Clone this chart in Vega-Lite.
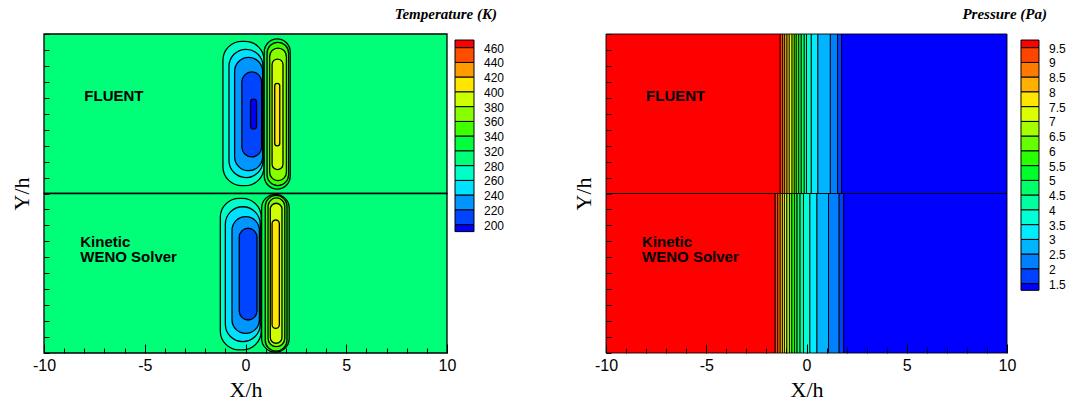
{
  "$schema": "https://vega.github.io/schema/vega-lite/v6.json",
  "background": "white",
  "padding": {"left": 10, "top": 7, "right": 0, "bottom": 0},
  "bounds": "flush",
  "spacing": 8,
  "resolve": {"scale": {"color": "independent"}},
  "config": {
    "view": {"stroke": null},
    "axis": {
      "labelFont": "Liberation Sans", "labelFontSize": 16, "labelColor": "black",
      "titleFont": "Liberation Serif", "titleFontSize": 22, "titleFontWeight": "normal", "titleColor": "black",
      "tickColor": "black", "tickWidth": 1, "grid": false, "domain": false
    }
  },
  "datasets": {
    "background": [
      {"half": "upper", "band": "T5", "x0": -10, "x1": 10, "y0": 10, "y1": 20},
      {"half": "lower", "band": "T5", "x0": -10, "x1": 10, "y0": 0, "y1": 10}
    ],
    "tempRings": [
      {"half": "upper", "band": "T4", "x0": -1.12, "x1": 0.92, "y0": 10.49, "y1": 19.54},
      {"half": "upper", "band": "T3", "x0": -0.82, "x1": 0.87, "y0": 11.0, "y1": 19.04},
      {"half": "upper", "band": "T2", "x0": -0.54, "x1": 0.85, "y0": 11.43, "y1": 18.53},
      {"half": "upper", "band": "T1", "x0": -0.18, "x1": 0.8, "y0": 12.29, "y1": 17.62},
      {"half": "upper", "band": "T0", "x0": 0.25, "x1": 0.55, "y0": 14.04, "y1": 15.92},
      {"half": "upper", "band": "T6", "x0": 0.93, "x1": 2.22, "y0": 10.28, "y1": 19.69},
      {"half": "upper", "band": "T7", "x0": 1.07, "x1": 2.14, "y0": 10.5, "y1": 19.48},
      {"half": "upper", "band": "T8", "x0": 1.2, "x1": 2.03, "y0": 10.81, "y1": 19.12},
      {"half": "upper", "band": "T9", "x0": 1.32, "x1": 1.86, "y0": 11.5, "y1": 18.43},
      {"half": "upper", "band": "T10", "x0": 1.45, "x1": 1.7, "y0": 12.99, "y1": 16.91},
      {"half": "lower", "band": "T4", "x0": -1.25, "x1": 0.78, "y0": 0.19, "y1": 9.7},
      {"half": "lower", "band": "T3", "x0": -1.0, "x1": 0.73, "y0": 0.71, "y1": 9.17},
      {"half": "lower", "band": "T2", "x0": -0.67, "x1": 0.69, "y0": 1.23, "y1": 8.55},
      {"half": "lower", "band": "T1", "x0": -0.31, "x1": 0.57, "y0": 2.07, "y1": 7.82},
      {"half": "lower", "band": "T6", "x0": 0.8, "x1": 2.17, "y0": 0.05, "y1": 9.95},
      {"half": "lower", "band": "T7", "x0": 0.98, "x1": 2.06, "y0": 0.12, "y1": 9.88},
      {"half": "lower", "band": "T8", "x0": 1.12, "x1": 1.95, "y0": 0.4, "y1": 9.72},
      {"half": "lower", "band": "T9", "x0": 1.23, "x1": 1.81, "y0": 0.61, "y1": 9.39},
      {"half": "lower", "band": "T10", "x0": 1.32, "x1": 1.68, "y0": 1.55, "y1": 8.34}
    ],
    "presBands": [
      {"half": "upper", "band": "P17", "x0": -10, "x1": -1.31, "y0": 10, "y1": 20},
      {"half": "upper", "band": "P16", "x0": -1.31, "x1": -1.19, "y0": 10, "y1": 20},
      {"half": "upper", "band": "P15", "x0": -1.19, "x1": -1.09, "y0": 10, "y1": 20},
      {"half": "upper", "band": "P14", "x0": -1.09, "x1": -0.97, "y0": 10, "y1": 20},
      {"half": "upper", "band": "P13", "x0": -0.97, "x1": -0.86, "y0": 10, "y1": 20},
      {"half": "upper", "band": "P12", "x0": -0.86, "x1": -0.72, "y0": 10, "y1": 20},
      {"half": "upper", "band": "P11", "x0": -0.72, "x1": -0.61, "y0": 10, "y1": 20},
      {"half": "upper", "band": "P10", "x0": -0.61, "x1": -0.51, "y0": 10, "y1": 20},
      {"half": "upper", "band": "P9", "x0": -0.51, "x1": -0.39, "y0": 10, "y1": 20},
      {"half": "upper", "band": "P8", "x0": -0.39, "x1": -0.26, "y0": 10, "y1": 20},
      {"half": "upper", "band": "P7", "x0": -0.26, "x1": -0.11, "y0": 10, "y1": 20},
      {"half": "upper", "band": "P6", "x0": -0.11, "x1": 0.0, "y0": 10, "y1": 20},
      {"half": "upper", "band": "P5", "x0": 0.0, "x1": 0.24, "y0": 10, "y1": 20},
      {"half": "upper", "band": "P4", "x0": 0.24, "x1": 0.57, "y0": 10, "y1": 20},
      {"half": "upper", "band": "P3", "x0": 0.57, "x1": 1.19, "y0": 10, "y1": 20},
      {"half": "upper", "band": "P2", "x0": 1.19, "x1": 1.55, "y0": 10, "y1": 20},
      {"half": "upper", "band": "P1", "x0": 1.55, "x1": 1.75, "y0": 10, "y1": 20},
      {"half": "upper", "band": "P0", "x0": 1.75, "x1": 10, "y0": 10, "y1": 20},
      {"half": "lower", "band": "P17", "x0": -10, "x1": -1.56, "y0": 0, "y1": 10},
      {"half": "lower", "band": "P16", "x0": -1.56, "x1": -1.43, "y0": 0, "y1": 10},
      {"half": "lower", "band": "P15", "x0": -1.43, "x1": -1.31, "y0": 0, "y1": 10},
      {"half": "lower", "band": "P14", "x0": -1.31, "x1": -1.2, "y0": 0, "y1": 10},
      {"half": "lower", "band": "P13", "x0": -1.2, "x1": -1.1, "y0": 0, "y1": 10},
      {"half": "lower", "band": "P12", "x0": -1.1, "x1": -0.98, "y0": 0, "y1": 10},
      {"half": "lower", "band": "P11", "x0": -0.98, "x1": -0.85, "y0": 0, "y1": 10},
      {"half": "lower", "band": "P10", "x0": -0.85, "x1": -0.73, "y0": 0, "y1": 10},
      {"half": "lower", "band": "P9", "x0": -0.73, "x1": -0.6, "y0": 0, "y1": 10},
      {"half": "lower", "band": "P8", "x0": -0.6, "x1": -0.47, "y0": 0, "y1": 10},
      {"half": "lower", "band": "P7", "x0": -0.47, "x1": -0.32, "y0": 0, "y1": 10},
      {"half": "lower", "band": "P6", "x0": -0.32, "x1": -0.15, "y0": 0, "y1": 10},
      {"half": "lower", "band": "P5", "x0": -0.15, "x1": 0.17, "y0": 0, "y1": 10},
      {"half": "lower", "band": "P4", "x0": 0.17, "x1": 0.52, "y0": 0, "y1": 10},
      {"half": "lower", "band": "P3", "x0": 0.52, "x1": 1.1, "y0": 0, "y1": 10},
      {"half": "lower", "band": "P2", "x0": 1.1, "x1": 1.63, "y0": 0, "y1": 10},
      {"half": "lower", "band": "P1", "x0": 1.63, "x1": 1.86, "y0": 0, "y1": 10},
      {"half": "lower", "band": "P0", "x0": 1.86, "x1": 10, "y0": 0, "y1": 10}
    ],
    "notes": [
      {"text": "FLUENT", "x": -8.0, "y": 16.1},
      {"text": "Kinetic", "x": -8.2, "y": 6.96},
      {"text": "WENO Solver", "x": -8.2, "y": 6.02}
    ],
    "tempLegend": [
      {"band": "T13", "lo": -0.52, "hi": 0},
      {"band": "T12", "lo": 0, "hi": 1},
      {"band": "T11", "lo": 1, "hi": 2},
      {"band": "T10", "lo": 2, "hi": 3},
      {"band": "T9", "lo": 3, "hi": 4},
      {"band": "T8", "lo": 4, "hi": 5},
      {"band": "T7", "lo": 5, "hi": 6},
      {"band": "T6", "lo": 6, "hi": 7},
      {"band": "T5", "lo": 7, "hi": 8},
      {"band": "T4", "lo": 8, "hi": 9},
      {"band": "T3", "lo": 9, "hi": 10},
      {"band": "T2", "lo": 10, "hi": 11},
      {"band": "T1", "lo": 11, "hi": 12},
      {"band": "T0", "lo": 12, "hi": 12.47}
    ],
    "tempLabels": [
      {"label": "460", "pos": 0}, {"label": "440", "pos": 1}, {"label": "420", "pos": 2},
      {"label": "400", "pos": 3}, {"label": "380", "pos": 4}, {"label": "360", "pos": 5},
      {"label": "340", "pos": 6}, {"label": "320", "pos": 7}, {"label": "280", "pos": 8},
      {"label": "260", "pos": 9}, {"label": "240", "pos": 10}, {"label": "220", "pos": 11},
      {"label": "200", "pos": 12}
    ],
    "presLegend": [
      {"band": "P17", "lo": -0.52, "hi": 0},
      {"band": "P16", "lo": 0, "hi": 1},
      {"band": "P15", "lo": 1, "hi": 2},
      {"band": "P14", "lo": 2, "hi": 3},
      {"band": "P13", "lo": 3, "hi": 4},
      {"band": "P12", "lo": 4, "hi": 5},
      {"band": "P11", "lo": 5, "hi": 6},
      {"band": "P10", "lo": 6, "hi": 7},
      {"band": "P9", "lo": 7, "hi": 8},
      {"band": "P8", "lo": 8, "hi": 9},
      {"band": "P7", "lo": 9, "hi": 10},
      {"band": "P6", "lo": 10, "hi": 11},
      {"band": "P5", "lo": 11, "hi": 12},
      {"band": "P4", "lo": 12, "hi": 13},
      {"band": "P3", "lo": 13, "hi": 14},
      {"band": "P2", "lo": 14, "hi": 15},
      {"band": "P1", "lo": 15, "hi": 16},
      {"band": "P0", "lo": 16, "hi": 16.45}
    ],
    "presLabels": [
      {"label": "9.5", "pos": 0}, {"label": "9", "pos": 1}, {"label": "8.5", "pos": 2},
      {"label": "8", "pos": 3}, {"label": "7.5", "pos": 4}, {"label": "7", "pos": 5},
      {"label": "6.5", "pos": 6}, {"label": "6", "pos": 7}, {"label": "5.5", "pos": 8},
      {"label": "5", "pos": 9}, {"label": "4.5", "pos": 10}, {"label": "4", "pos": 11},
      {"label": "3.5", "pos": 12}, {"label": "3", "pos": 13}, {"label": "2.5", "pos": 14},
      {"label": "2", "pos": 15}, {"label": "1.5", "pos": 16}
    ]
  },
  "hconcat": [
    {
      "width": 403, "height": 319,
      "encoding": {
        "x": {"type": "quantitative", "scale": {"domain": [-10, 10], "nice": false, "zero": false},
          "axis": {"title": "X/h", "values": [-10,-9,-8,-7,-6,-5,-4,-3,-2,-1,0,1,2,3,4,5,6,7,8,9,10],
            "labelExpr": "datum.value % 5 === 0 ? '' + datum.value : ''",
            "tickSize": {"condition": {"test": "datum.value % 5 === 0", "value": -9}, "value": -5},
            "labelPadding": 13, "labelOverlap": false, "labelFlush": false, "titlePadding": 2, "zindex": 2}},
        "y": {"type": "quantitative", "scale": {"domain": [0, 20], "nice": false, "zero": false},
          "axis": {"title": "Y/h", "values": [0,1,2,3,4,5,6,7,8,9,10,11,12,13,14,15,16,17,18,19,20],
            "labels": false, "tickSize": -5, "titlePadding": 10, "zindex": 2}}
      },
      "layer": [
        {"data": {"name": "background"}, "mark": {"type": "rect", "stroke": "black", "strokeWidth": 1.3},
          "encoding": {"x": {"field": "x0"}, "x2": {"field": "x1"}, "y": {"field": "y0"}, "y2": {"field": "y1"},
            "color": {"field": "band", "type": "nominal", "legend": null,
              "scale": {"domain": ["T0","T1","T2","T3","T4","T5","T6","T7","T8","T9","T10","T11","T12","T13"],
                "range": ["#0000FF","#0044FF","#0095FF","#00E0FF","#00FFC8","#00FF78","#00FF3C","#40FF00","#88FF00","#CCFF00","#FFE600","#FF9A00","#FF4D00","#FF0000"]}}}},
        {"data": {"name": "tempRings"}, "mark": {"type": "rect", "stroke": "black", "strokeWidth": 1.3, "cornerRadius": 19},
          "encoding": {"x": {"field": "x0"}, "x2": {"field": "x1"}, "y": {"field": "y0"}, "y2": {"field": "y1"},
            "color": {"field": "band", "type": "nominal", "legend": null,
              "scale": {"domain": ["T0","T1","T2","T3","T4","T5","T6","T7","T8","T9","T10","T11","T12","T13"],
                "range": ["#0000FF","#0044FF","#0095FF","#00E0FF","#00FFC8","#00FF78","#00FF3C","#40FF00","#88FF00","#CCFF00","#FFE600","#FF9A00","#FF4D00","#FF0000"]}}}},
        {"data": {"name": "notes"}, "mark": {"type": "text", "align": "left", "baseline": "middle", "font": "Liberation Sans", "fontWeight": "bold", "fontSize": 15, "color": "black"},
          "encoding": {"x": {"field": "x"}, "y": {"field": "y"}, "text": {"field": "text"}}}
      ]
    },
    {
      "width": 143, "height": 319,
      "title": {"text": "Temperature (K)", "anchor": "end", "frame": "group", "dx": -101, "offset": 12,
        "font": "Liberation Serif", "fontSize": 15, "fontStyle": "italic", "fontWeight": "bold", "color": "black"},
      "layer": [
        {"data": {"name": "tempLegend"}, "mark": {"type": "rect", "stroke": "black", "strokeWidth": 1},
          "encoding": {
            "x": {"datum": 0, "type": "quantitative", "scale": {"domain": [0, 7.526], "nice": false, "zero": false}, "axis": null},
            "x2": {"datum": 1},
            "y": {"field": "lo", "type": "quantitative", "scale": {"domain": [-0.93, 20.7], "reverse": true, "nice": false, "zero": false}, "axis": null},
            "y2": {"field": "hi"},
            "color": {"field": "band", "type": "nominal", "legend": null,
              "scale": {"domain": ["T0","T1","T2","T3","T4","T5","T6","T7","T8","T9","T10","T11","T12","T13"],
                "range": ["#0000FF","#0044FF","#0095FF","#00E0FF","#00FFC8","#00FF78","#00FF3C","#40FF00","#88FF00","#CCFF00","#FFE600","#FF9A00","#FF4D00","#FF0000"]}}}},
        {"data": {"name": "tempLabels"}, "mark": {"type": "text", "align": "left", "baseline": "middle", "dx": 10, "dy": 1, "font": "Liberation Sans", "fontSize": 12, "color": "black"},
          "encoding": {"x": {"datum": 1, "type": "quantitative"}, "y": {"field": "pos", "type": "quantitative"}, "text": {"field": "label"}}}
      ]
    },
    {
      "width": 401, "height": 319,
      "encoding": {
        "x": {"type": "quantitative", "scale": {"domain": [-10, 10], "nice": false, "zero": false},
          "axis": {"title": "X/h", "values": [-10,-9,-8,-7,-6,-5,-4,-3,-2,-1,0,1,2,3,4,5,6,7,8,9,10],
            "labelExpr": "datum.value % 5 === 0 ? '' + datum.value : ''",
            "tickSize": {"condition": {"test": "datum.value % 5 === 0", "value": -9}, "value": -5},
            "labelPadding": 13, "labelOverlap": false, "labelFlush": false, "titlePadding": 2, "zindex": 2}},
        "y": {"type": "quantitative", "scale": {"domain": [0, 20], "nice": false, "zero": false},
          "axis": {"title": "Y/h", "values": [0,1,2,3,4,5,6,7,8,9,10,11,12,13,14,15,16,17,18,19,20],
            "labels": false, "tickSize": -5, "titlePadding": 10, "zindex": 2}}
      },
      "layer": [
        {"data": {"name": "presBands"}, "mark": {"type": "rect", "stroke": "black", "strokeWidth": 0.9},
          "encoding": {"x": {"field": "x0"}, "x2": {"field": "x1"}, "y": {"field": "y0"}, "y2": {"field": "y1"},
            "color": {"field": "band", "type": "nominal", "legend": null,
              "scale": {"domain": ["P0","P1","P2","P3","P4","P5","P6","P7","P8","P9","P10","P11","P12","P13","P14","P15","P16","P17"],
                "range": ["#0000FF","#0040FF","#0080FF","#00B4FF","#00ECFF","#00FFD4","#00FFA0","#00FF68","#00FF2A","#28FF00","#66FF00","#A6FF00","#D9FF00","#FFE600","#FFB000","#FF7A00","#FF4400","#FF0000"]}}}},
        {"data": {"name": "notes"}, "mark": {"type": "text", "align": "left", "baseline": "middle", "font": "Liberation Sans", "fontWeight": "bold", "fontSize": 15, "color": "black"},
          "encoding": {"x": {"field": "x"}, "y": {"field": "y"}, "text": {"field": "text"}}}
      ]
    },
    {
      "width": 45, "height": 319,
      "title": {"text": "Pressure (Pa)", "anchor": "end", "frame": "group", "dx": -13, "offset": 12,
        "font": "Liberation Serif", "fontSize": 15, "fontStyle": "italic", "fontWeight": "bold", "color": "black"},
      "layer": [
        {"data": {"name": "presLegend"}, "mark": {"type": "rect", "stroke": "black", "strokeWidth": 1},
          "encoding": {
            "x": {"datum": 0, "type": "quantitative", "scale": {"domain": [-0.333, 2.167], "nice": false, "zero": false}, "axis": null},
            "x2": {"datum": 1},
            "y": {"field": "lo", "type": "quantitative", "scale": {"domain": [-0.93, 20.7], "reverse": true, "nice": false, "zero": false}, "axis": null},
            "y2": {"field": "hi"},
            "color": {"field": "band", "type": "nominal", "legend": null,
              "scale": {"domain": ["P0","P1","P2","P3","P4","P5","P6","P7","P8","P9","P10","P11","P12","P13","P14","P15","P16","P17"],
                "range": ["#0000FF","#0040FF","#0080FF","#00B4FF","#00ECFF","#00FFD4","#00FFA0","#00FF68","#00FF2A","#28FF00","#66FF00","#A6FF00","#D9FF00","#FFE600","#FFB000","#FF7A00","#FF4400","#FF0000"]}}}},
        {"data": {"name": "presLabels"}, "mark": {"type": "text", "align": "left", "baseline": "middle", "dx": 10, "dy": 1, "font": "Liberation Sans", "fontSize": 12, "color": "black"},
          "encoding": {"x": {"datum": 1, "type": "quantitative"}, "y": {"field": "pos", "type": "quantitative"}, "text": {"field": "label"}}}
      ]
    }
  ]
}
